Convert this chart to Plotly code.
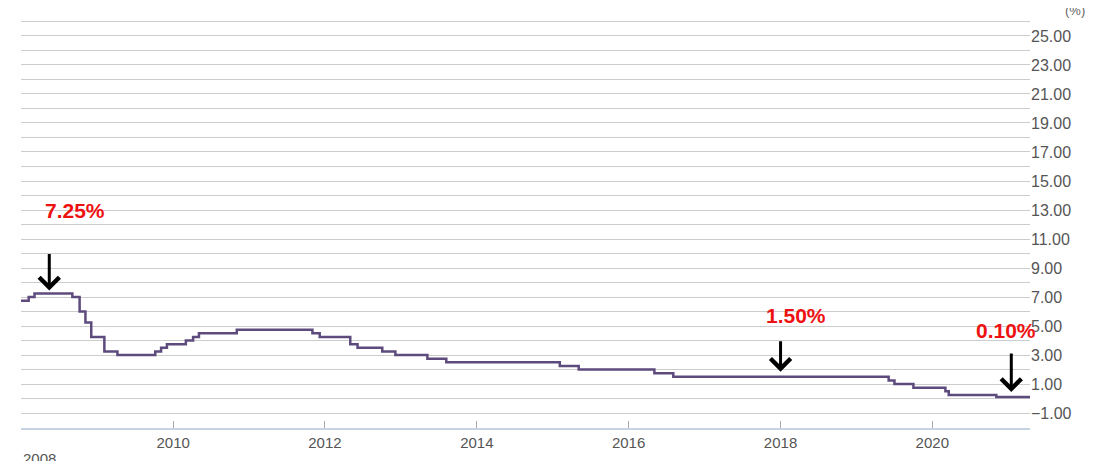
import plotly.graph_objects as go

dates = ["2007-12-01","2008-02-06","2008-03-05","2008-09-03","2008-10-08","2008-11-05","2008-12-03",
         "2009-02-04","2009-04-08","2009-10-07","2009-11-04","2009-12-02","2010-03-03","2010-04-07",
         "2010-05-05","2010-11-03","2011-11-02","2011-12-07","2012-05-02","2012-06-06","2012-10-03",
         "2012-12-05","2013-05-08","2013-08-07","2015-02-04","2015-05-06","2016-05-04","2016-08-03",
         "2019-06-05","2019-07-03","2019-10-02","2020-03-04","2020-03-20","2020-11-04","2021-04-15"]
rates = [6.75,7.00,7.25,7.00,6.00,5.25,4.25,3.25,3.00,3.25,3.50,3.75,4.00,4.25,4.50,4.75,4.50,4.25,
         3.75,3.50,3.25,3.00,2.75,2.50,2.25,2.00,1.75,1.50,1.25,1.00,0.75,0.50,0.25,0.10,0.10]

tick_vals = ["2008-01-01","2010-01-01","2012-01-01","2014-01-01","2016-01-01","2018-01-01","2020-01-01"]
tick_text = ["","2010","2012","2014","2016","2018","2020"]

ann_text = ["7.25%", "1.50%", "0.10%"]
ann_x = ["2008-05-15", "2018-01-01", "2021-01-15"]
ann_y = [7.45, 1.85, 0.45]
ann_tail = [-38, -32, -40]
text_x = ["2008-09-15", "2018-03-15", "2020-12-20"]
text_y = [13.0, 5.7, 4.7]

fig = go.Figure(go.Scatter(x=dates, y=rates, mode="lines", line_shape="hv",
                           line=dict(color="#5e4b7e", width=2.5), hoverinfo="skip"))

for t, x, y, tl, tx, ty in zip(ann_text, ann_x, ann_y, ann_tail, text_x, text_y):
    fig.add_annotation(x=x, y=y, ax=0, ay=tl, showarrow=True, arrowhead=4, arrowsize=1.3,
                       arrowwidth=3, arrowcolor="black", text="")
    fig.add_annotation(x=tx, y=ty, text="<b>" + t + "</b>", showarrow=False,
                       font=dict(color="#ee1111", size=21, family="Arial"))

fig.add_annotation(xref="paper", yref="paper", x=1.045, y=1.0, yanchor="bottom", xanchor="center",
                   text="(%)", showarrow=False, font=dict(color="#666", size=13))
fig.add_annotation(xref="paper", yref="paper", x=0.0, y=-0.05, yanchor="top", xanchor="left",
                   text="2008", showarrow=False, font=dict(color="#555", size=15))

fig.update_layout(
    width=1110, height=461, margin=dict(l=13, r=88, t=12, b=41),
    plot_bgcolor="white", paper_bgcolor="white", showlegend=False,
    font=dict(family="Arial", color="#555"),
    xaxis=dict(range=["2007-12-31", "2021-04-15"], showgrid=False, tickvals=tick_vals, ticktext=tick_text,
               automargin=False, ticks="inside", ticklen=7, tickcolor="#aaa", showline=True,
               linecolor="#c5d3e3", linewidth=2, tickfont=dict(size=15, color="#555"), zeroline=False),
    yaxis=dict(side="right", range=[-2.03, 26.1], tick0=-1, dtick=2, tickformat=".2f", automargin=False,
               gridcolor="#cccccc", zeroline=False, tickfont=dict(size=16, color="#555"),
               minor=dict(dtick=1, tick0=0, showgrid=True, gridcolor="#cccccc")),
)
fig.write_html("out.html")
